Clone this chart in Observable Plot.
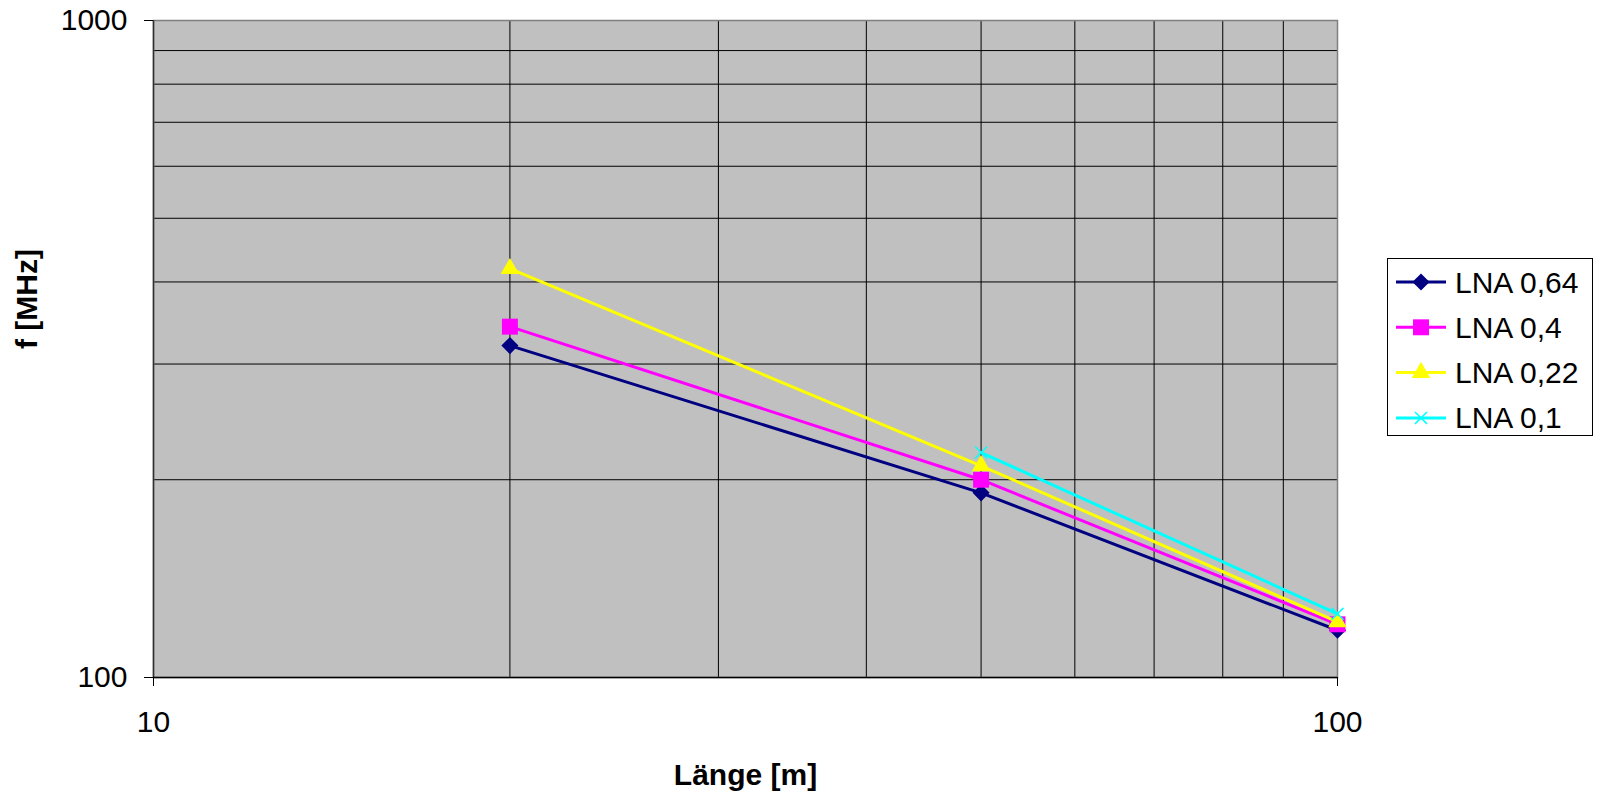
<!DOCTYPE html>
<html><head><meta charset="utf-8">
<script src="https://cdn.jsdelivr.net/npm/d3@7"></script>
<script src="https://cdn.jsdelivr.net/npm/@observablehq/plot@0.6"></script>
<style>
html,body{margin:0;padding:0;background:#fff;}
#chart{position:relative;width:1600px;height:792px;}
</style></head><body><div id="chart"></div>
<script>
const lengths = [20, 50, 100];
const seriesNames = ["LNA 0,64", "LNA 0,4", "LNA 0,22", "LNA 0,1"];
const lna064 = [320, 191, 118];
const lna04 = [342, 200, 120.5];
const lna022 = [419, 210, 121.5];
const lna01 = [null, 220, 125];
const xTicks = [10, 100];
const yTicks = [100, 1000];
const xGrid = [20, 30, 40, 50, 60, 70, 80, 90];
const yGrid = [200, 300, 400, 500, 600, 700, 800, 900];
const xLabel = "Länge [m]";
const yLabel = "f [MHz]";

const seriesValues = [lna064, lna04, lna022, lna01];
const colors = ["#000080", "#ff00ff", "#ffff00", "#00ffff"];
const symbols = ["diamond2", "square", "triangle", "times"];
const radii = [7.7, 9, 6.9, 5.5];

const marks = [
  Plot.frame({fill: "#c0c0c0"}),
  Plot.ruleX(xGrid, {stroke: "#000", strokeWidth: 1}),
  Plot.ruleY(yGrid, {stroke: "#000", strokeWidth: 1}),
  Plot.frame({stroke: "#808080", strokeWidth: 1.5}),
  Plot.ruleX([10], {stroke: "#303030", strokeWidth: 1.5}),
  Plot.ruleY([100], {stroke: "#000", strokeWidth: 1.5}),
  Plot.axisX(xTicks, {tickSize: 9, tickPadding: 24, fontSize: 30, label: null, tickFormat: d => String(d)}),
  Plot.axisY(yTicks, {tickSize: 9, tickPadding: 17, fontSize: 30, label: null, tickFormat: d => String(d)}),
  Plot.text([xLabel], {frameAnchor: "bottom", dy: 98, fontSize: 30, fontWeight: "bold", text: d => d, lineAnchor: "middle"}),
  Plot.text([yLabel], {frameAnchor: "left", dx: -126, rotate: -90, fontSize: 30, fontWeight: "bold", text: d => d, lineAnchor: "middle"})
];

seriesValues.forEach((vals, i) => {
  const rows = lengths.map((x, j) => ({x, y: vals[j]})).filter(d => d.y != null);
  marks.push(Plot.line(rows, {x: "x", y: "y", stroke: colors[i], strokeWidth: 3}));
  if (symbols[i] === "times") {
    marks.push(Plot.dot(rows, {x: "x", y: "y", symbol: "times", r: radii[i], stroke: colors[i], strokeWidth: 1.5}));
  } else {
    marks.push(Plot.dot(rows, {x: "x", y: "y", symbol: symbols[i], r: radii[i], fill: colors[i], stroke: "none"}));
  }
});

const chart = Plot.plot({
  width: 1600, height: 792,
  marginLeft: 153, marginRight: 263, marginTop: 20, marginBottom: 115,
  x: {type: "log", domain: [10, 100]},
  y: {type: "log", domain: [100, 1000]},
  style: {fontFamily: "'Liberation Sans', Arial, sans-serif", background: "#fff", color: "#000", overflow: "visible"},
  marks
});

const svg = d3.select(chart);
const lg = svg.append("g").attr("text-anchor", "start");
lg.append("rect").attr("x", 1387.5).attr("y", 258.5).attr("width", 205).attr("height", 177)
  .attr("fill", "#fff").attr("stroke", "#000").attr("stroke-width", 1);
const symMap = {diamond2: d3.symbolDiamond2, square: d3.symbolSquare, triangle: d3.symbolTriangle, times: d3.symbolTimes};
seriesNames.forEach((name, i) => {
  const cy = 282 + i * 45.3;
  lg.append("line").attr("x1", 1396).attr("x2", 1446).attr("y1", cy).attr("y2", cy)
    .attr("stroke", colors[i]).attr("stroke-width", 3);
  const p = lg.append("path").attr("d", d3.symbol(symMap[symbols[i]], Math.PI * radii[i] ** 2)())
    .attr("transform", `translate(1421,${cy})`);
  if (symbols[i] === "times") p.attr("fill", "none").attr("stroke", colors[i]).attr("stroke-width", 1.5);
  else p.attr("fill", colors[i]);
  lg.append("text").attr("x", 1455).attr("y", cy).attr("dy", "0.35em")
    .attr("text-anchor", "start").style("font-size", "30px").attr("fill", "#000").text(name);
});

document.getElementById("chart").appendChild(chart);
</script>
</body></html>
